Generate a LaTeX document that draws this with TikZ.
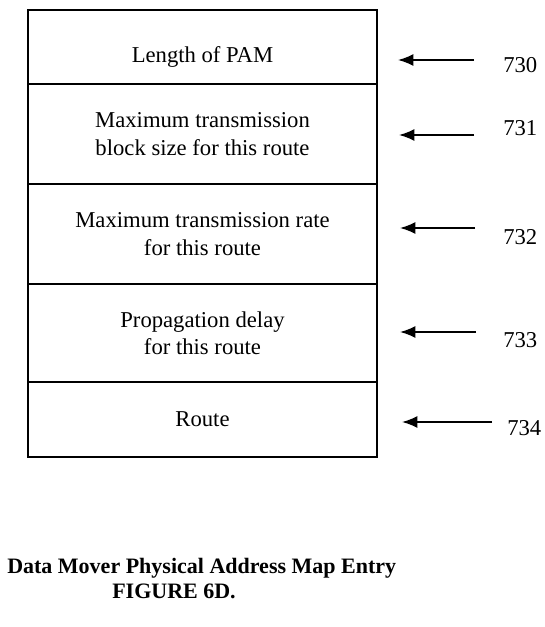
\documentclass[tikz,border=0pt]{standalone}
\usepackage{fontspec}
\setmainfont{Liberation Serif}
\usepackage{tikz}
\usetikzlibrary{positioning,arrows.meta}

\tikzset{
    row/.style = {draw, line width=1.1pt, outer sep=0pt, inner sep=0pt, minimum width=261.75pt, align=center, font=\fontsize{17}{20.5}\selectfont},
    num/.style = {anchor=west, inner sep=0pt, font=\fontsize{17}{20.5}\selectfont},
    arr/.style = {line width=1.3pt, -{Latex[length=11.5pt,width=9pt]}},
    capt/.style = {anchor=west, inner sep=0pt, font=\fontsize{16.5}{20}\selectfont\bfseries}
}

\begin{document}
\begin{tikzpicture}[x=0.75pt, y=-0.75pt]
        \useasboundingbox (0, 0) rectangle (544, 627);
        % entry fields
        \node[row, minimum height=55.5pt, anchor=north] (len) at (202.5, 10) {\raisebox{-12pt}[0pt][0pt]{Length of PAM}};
        \node[row, minimum height=75pt, below=0pt of len] (blk) {Maximum transmission\\block size for this route};
        \node[row, minimum height=75pt, below=0pt of blk] (rate) {Maximum transmission rate\\for this route};
        \node[row, minimum height=73.5pt, below=0pt of rate] (prop) {Propagation delay\\for this route};
        \node[row, minimum height=56.25pt, below=0pt of prop] (route) {Route};

        % reference numerals
        \node[num] (n730) at (503, 65) {730};
        \node[num] (n731) at (503, 128) {731};
        \node[num] (n732) at (503, 237) {732};
        \node[num] (n733) at (503, 340) {733};
        \node[num] (n734) at (507, 428) {734};

        \coordinate (s730) at (474, 60);  \coordinate (e730) at (398, 60);
        \coordinate (s731) at (474, 135); \coordinate (e731) at (399, 135);
        \coordinate (s732) at (475, 228); \coordinate (e732) at (400, 228);
        \coordinate (s733) at (476, 332); \coordinate (e733) at (400, 332);
        \coordinate (s734) at (492, 422); \coordinate (e734) at (402, 422);
        \draw[arr] (s730) -- (e730);
        \draw[arr] (s731) -- (e731);
        \draw[arr] (s732) -- (e732);
        \draw[arr] (s733) -- (e733);
        \draw[arr] (s734) -- (e734);

        % caption
        \node[capt] (cap) at (7, 568) {Data Mover Physical Address Map Entry};
        \node[capt] (fig) at (112, 591) {FIGURE 6D.};
    \end{tikzpicture}
\end{document}
